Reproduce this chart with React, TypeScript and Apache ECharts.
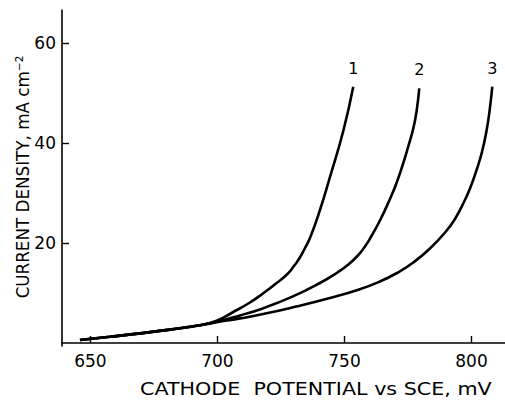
import React, { useEffect, useRef } from "react";
import * as echarts from "echarts";

const xTicks = [650, 700, 750, 800];
const yTicks = [20, 40, 60];
const curveNames = ["1", "2", "3"];
const xName = "CATHODE  POTENTIAL vs SCE, mV";
const yName = "CURRENT DENSITY, mA cm⁻²";

const common: [number, number][] = [
  [645.87, 0.6], [657.68, 1.24], [669.49, 1.92], [681.3, 2.68], [693.11, 3.56],
];
const curve1: [number, number][] = [
  [699.68, 4.44], [706.22, 6.2], [712.8, 8.1], [717.91, 9.9], [723.31, 12.0],
  [727.76, 13.9], [730.12, 15.4], [732.09, 16.8], [734.06, 18.6], [736.42, 21.0],
  [740.35, 26.6], [744.29, 33.2], [749.53, 42.4], [753.46, 51.26],
];
const curve2: [number, number][] = [
  [699.68, 4.24], [708.86, 5.52], [717.52, 6.86], [729.72, 9.32], [740.35, 12.0],
  [747.24, 14.1], [751.53, 15.7], [755.47, 17.6], [758.07, 19.3], [760.51, 21.3],
  [763.97, 24.5], [767.91, 28.8], [770.28, 31.7], [772.91, 35.6], [775.0, 39.1],
  [777.09, 42.9], [778.35, 46.2], [779.45, 50.94],
];
const curve3: [number, number][] = [
  [699.68, 4.14], [708.86, 4.92], [717.91, 5.78], [730.91, 7.28], [744.29, 9.0],
  [755.47, 10.64], [763.97, 12.3], [770.67, 14.0], [777.09, 16.1], [783.66, 18.9],
  [790.24, 22.5], [793.5, 24.8], [797.05, 28.2], [799.41, 30.9], [802.01, 34.6],
  [804.13, 38.2], [805.98, 42.6], [807.17, 46.6], [808.19, 51.26],
];

const curves = [curve1, curve2, curve3];

function measure(text: string, size: number, family: string): number {
  const c = document.createElement("canvas").getContext("2d");
  if (!c) return text.length * size * 0.6;
  c.font = `${size}px "${family}"`;
  return c.measureText(text).width;
}

export default function App() {
  const ref = useRef<HTMLDivElement>(null);
  useEffect(() => {
    document.body.style.margin = "0";
    const chart = echarts.init(ref.current!, null, { renderer: "svg" });
    const font = "DejaVu Sans";
    const xNameSize = 17;
    const yNameSize = 18;
    const xScale = 352 / measure(xName, xNameSize, font);
    const yScale = 243 / measure(yName, yNameSize, font);
    chart.setOption({
      animation: false,
      backgroundColor: "#fff",
      grid: { left: 62, right: 0, top: 10, bottom: 54 },
      xAxis: {
        type: "value",
        min: 638.8,
        max: 813.2,
        axisLine: { lineStyle: { color: "#000", width: 1.6 } },
        axisTick: { inside: true, length: 7, customValues: xTicks, lineStyle: { color: "#000", width: 1.4 } },
        axisLabel: { customValues: xTicks, color: "#000", fontSize: 17, fontFamily: font, margin: 6 },
        splitLine: { show: false },
      },
      yAxis: {
        type: "value",
        min: -0.6,
        max: 66.6,
        axisLine: { show: true, lineStyle: { color: "#000", width: 1.6 } },
        axisTick: { show: true, inside: true, length: 7, customValues: yTicks, lineStyle: { color: "#000", width: 1.4 } },
        axisLabel: { customValues: yTicks, color: "#000", fontSize: 17, fontFamily: font, margin: 6 },
        splitLine: { show: false },
      },
      graphic: [
        {
          type: "text",
          x: 140,
          y: 389,
          scaleX: xScale,
          style: {
            text: xName,
            fontSize: xNameSize,
            fontFamily: font,
            fill: "#000",
            align: "left",
            verticalAlign: "middle",
          },
        },
        {
          type: "text",
          x: 23,
          y: 177,
          rotation: Math.PI / 2,
          scaleX: yScale,
          style: {
            text: yName,
            fontSize: yNameSize,
            fontFamily: font,
            fill: "#000",
            align: "center",
            verticalAlign: "middle",
          },
        },
      ],
      series: curves.map((c, i) => {
        const pts = [...common, ...c];
        const last = pts[pts.length - 1];
        return {
          type: "line",
          smooth: 0.5,
          symbol: "none",
          lineStyle: { color: "#000", width: 2.6 },
          data: pts,
          markPoint: {
            symbol: "circle",
            symbolSize: 1,
            itemStyle: { color: "transparent" },
            data: [
              {
                coord: last,
                label: {
                  show: true,
                  position: "top",
                  distance: 10,
                  formatter: curveNames[i],
                  color: "#000",
                  fontSize: 16,
                  fontFamily: font,
                },
              },
            ],
          },
        };
      }),
    });
    return () => chart.dispose();
  }, []);
  return <div ref={ref} style={{ width: 505, height: 400 }} />;
}
